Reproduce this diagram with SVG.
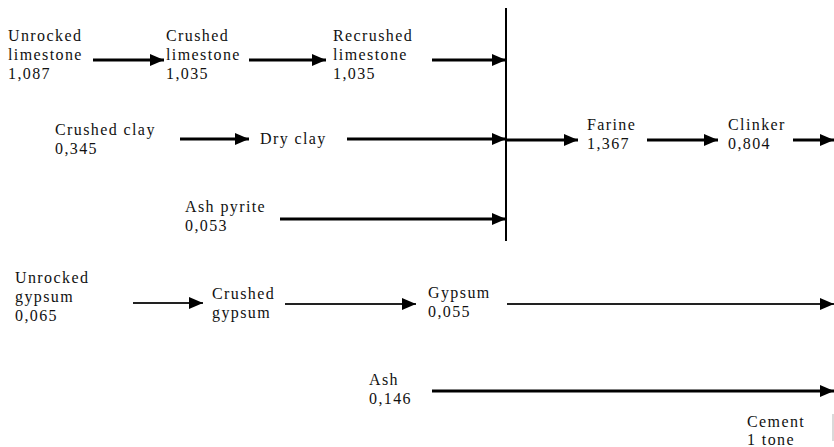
<svg xmlns="http://www.w3.org/2000/svg" width="834" height="447" viewBox="0 0 834 447">
  <defs>
    <marker id="head" viewBox="0 0 14 12" refX="14" refY="6" markerWidth="14" markerHeight="12" markerUnits="userSpaceOnUse" orient="auto">
      <path d="M0,0 L14,6 L0,12 Z" fill="#000"/>
    </marker>
  </defs>
  <style>
    .lbl { font-size: 16px; fill: #111; letter-spacing: 1.4px; }
    .flow { stroke: #000; stroke-width: 3; fill: none; marker-end: url(#head); }
    .thin { stroke: #222; stroke-width: 2.2; fill: none; marker-end: url(#head); }
    .bar { stroke: #000; stroke-width: 2; fill: none; }
  </style>
  <rect width="834" height="447" fill="#fff"/>

  <g id="connectors">
    <!-- limestone chain -->
    <line class="flow" x1="93" y1="60" x2="164" y2="60"/>
    <line class="flow" x1="249" y1="60" x2="326" y2="60"/>
    <line class="flow" x1="432" y1="60" x2="506" y2="60"/>
    <!-- clay chain -->
    <line class="flow" x1="180" y1="139" x2="249" y2="139"/>
    <line class="flow" x1="347" y1="139" x2="506" y2="139"/>
    <!-- ash pyrite -->
    <line class="flow" x1="280" y1="219" x2="506" y2="219"/>
    <!-- mixing bar and kiln line -->
    <line class="bar" x1="506" y1="8" x2="506" y2="241"/>
    <line class="flow" x1="506" y1="140" x2="578" y2="140"/>
    <line class="flow" x1="647" y1="140" x2="718" y2="140"/>
    <line class="flow" x1="793" y1="140" x2="834" y2="140"/>
    <!-- gypsum chain -->
    <line class="thin" x1="133" y1="303" x2="203" y2="303"/>
    <line class="thin" x1="285" y1="304" x2="416" y2="304"/>
    <line class="thin" x1="507" y1="304" x2="834" y2="304"/>
    <!-- ash -->
    <line class="flow" x1="432" y1="391" x2="834" y2="391"/>
    <line x1="833" y1="414" x2="833" y2="441" stroke="#ccc" stroke-width="1.5"/>
  </g>

  <g class="lbl" font-family="'Liberation Serif', 'DejaVu Serif', serif">
  <g id="unrocked-limestone">
    <text x="8" y="41">Unrocked</text>
    <text x="8" y="60">limestone</text>
    <text x="8" y="79">1,087</text>
  </g>
  <g id="crushed-limestone">
    <text x="166" y="41">Crushed</text>
    <text x="166" y="60">limestone</text>
    <text x="166" y="79">1,035</text>
  </g>
  <g id="recrushed-limestone">
    <text x="333" y="41">Recrushed</text>
    <text x="333" y="60">limestone</text>
    <text x="333" y="79">1,035</text>
  </g>
  <g id="crushed-clay">
    <text x="55" y="135">Crushed clay</text>
    <text x="55" y="154">0,345</text>
  </g>
  <g id="dry-clay">
    <text x="260" y="144">Dry clay</text>
  </g>
  <g id="ash-pyrite">
    <text x="185" y="212">Ash pyrite</text>
    <text x="185" y="231">0,053</text>
  </g>
  <g id="farine">
    <text x="587" y="130">Farine</text>
    <text x="587" y="149">1,367</text>
  </g>
  <g id="clinker">
    <text x="728" y="130">Clinker</text>
    <text x="728" y="149">0,804</text>
  </g>
  <g id="unrocked-gypsum">
    <text x="15" y="283">Unrocked</text>
    <text x="15" y="302">gypsum</text>
    <text x="15" y="321">0,065</text>
  </g>
  <g id="crushed-gypsum">
    <text x="212" y="299">Crushed</text>
    <text x="212" y="318">gypsum</text>
  </g>
  <g id="gypsum">
    <text x="428" y="298">Gypsum</text>
    <text x="428" y="317">0,055</text>
  </g>
  <g id="ash">
    <text x="369" y="385">Ash</text>
    <text x="369" y="404">0,146</text>
  </g>
  <g id="cement">
    <text x="747" y="427">Cement</text>
    <text x="747" y="445">1 tone</text>
  </g>
  </g>
</svg>
